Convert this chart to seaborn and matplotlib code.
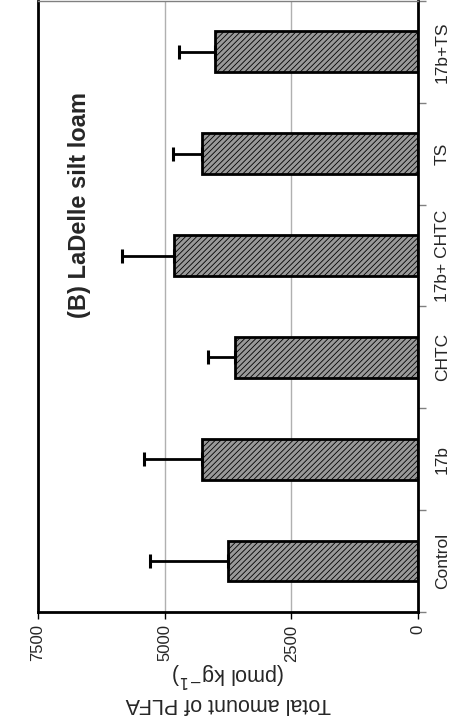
import numpy as np
import pandas as pd
import matplotlib
matplotlib.use("Agg")
import matplotlib.pyplot as plt
import seaborn as sns
from matplotlib.ticker import FixedLocator

# values (pmol kg-1)
treatments = ['Control', '17b', 'CHTC', '17b+ CHTC', 'TS', '17b+TS']
plfa_mean = [3750, 4270, 3620, 4820, 4270, 4000]
plfa_err = [1530, 1130, 520, 1030, 570, 720]
value_ticks = [0, 2500, 5000, 7500]
title = '(B) LaDelle silt loam'

sns.set_theme(style='white')
plt.rcParams['font.family'] = ['Liberation Sans', 'DejaVu Sans']
plt.rcParams['hatch.linewidth'] = 0.6

df = pd.DataFrame({'treatment': treatments, 'plfa': plfa_mean})
order = treatments[::-1]  # chart is turned on its side: Control at the bottom

fig = plt.figure(figsize=(4.57, 7.24), dpi=100)
ax = fig.add_axes([0.083, 0.1547, 0.832, 0.844])

sns.barplot(data=df, y='treatment', x='plfa', order=order, orient='h',
            color='#999999', saturation=1, width=0.4, errorbar=None,
            edgecolor='black', linewidth=2, ax=ax)
for p in ax.patches:
    p.set_hatch('//////')

# one-sided error bars
ypos = [order.index(t) for t in treatments]
ax.errorbar(plfa_mean, ypos, xerr=[np.zeros(len(plfa_err)), plfa_err],
            fmt='none', ecolor='black', elinewidth=2, capsize=5, capthick=2.2)

ax.set_xlim(7500, 0)
ax.set_ylim(5.5, -0.5)

# value axis (bottom)
ax.set_xticks(value_ticks)
ax.set_xticklabels([str(v) for v in value_ticks])
ax.tick_params(axis='x', bottom=True, length=5, width=1, color='black',
               pad=4, labelsize=12, labelrotation=90)
ax.xaxis.grid(True, color='#b0b0b0', lw=1)
ax.set_axisbelow(True)

# category axis (right)
ax.yaxis.tick_right()
ax.set_ylabel('')
ax.tick_params(axis='y', which='major', length=0, pad=12, labelsize=12.5,
               labelrotation=90)
ax.yaxis.set_minor_locator(FixedLocator(np.arange(-0.5, 6, 1)))
ax.tick_params(axis='y', which='minor', right=True, left=False, length=6,
               width=1, color='#808080')
for lab in ax.get_yticklabels():
    lab.set_va('center')

for side in ['left', 'right', 'bottom']:
    ax.spines[side].set_color('black')
    ax.spines[side].set_linewidth(2)
ax.spines['top'].set_color('#808080')
ax.spines['top'].set_linewidth(1)

ax.set_xlabel('Total amount of PLFA\n(pmol kg$^{-1}$)', rotation=180,
              fontsize=15.5, linespacing=1.2)
ax.xaxis.label.set_va('center')
ax.xaxis.set_label_coords(0.5, -0.122)

ax.text(0.11, 0.666, title, transform=ax.transAxes, rotation=90,
        ha='center', va='center', fontsize=17, fontweight='bold')

fig.savefig('out.png', dpi=100)
